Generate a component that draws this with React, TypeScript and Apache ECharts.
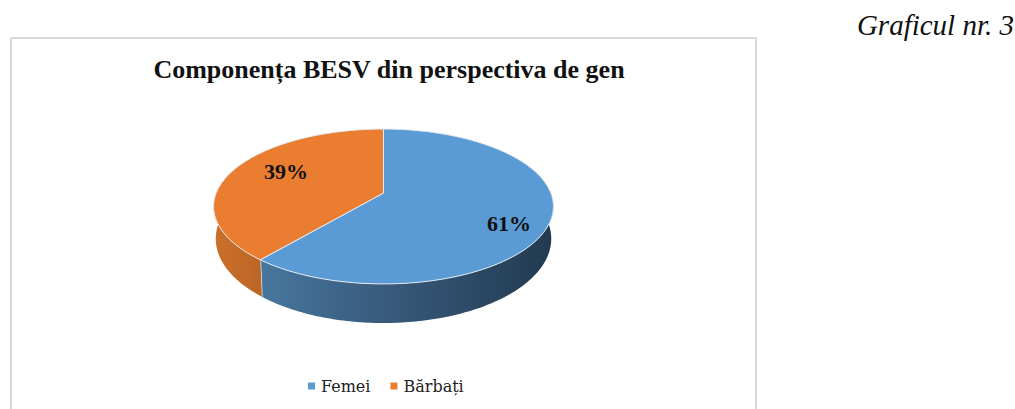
import React, { useEffect, useRef } from "react";
import * as echarts from "echarts";

const categories = ["Femei", "Bărbați"];
const shares = [61, 39];
const titleText = "Componența BESV din perspectiva de gen";
const captionText = "Graficul nr. 3";

const colors = ["#5b9bd5", "#eb7d31"];
const sideGradients = [
  [[0, "#47779f"], [0.45, "#38597a"], [1, "#213a50"]],
  [[0, "#ca7029"], [1, "#bb6526"]],
];
const labelPos = [[509, 223], [286, 171]];
const font = "'Liberation Serif', serif";

// perspective projection of the disc
const P = -0.174;
const top = { x: 383.5, y: 193, a: 167.3, b: 75.1 };
const bottom = { x: 383.5, y: 224, a: 165.2, b: 81.8 };
const proj = (f: any, t: number, r = 1) => {
  const u = r * Math.sin(t), v = -r * Math.cos(t), d = 1 + P * v;
  return [f.x + (f.a * u) / d, f.y + (f.b * v) / d];
};
const arc = (f: any, a: number, b: number) => {
  const n = Math.max(2, Math.ceil(((b - a) * 180) / Math.PI));
  const pts: number[][] = [];
  for (let i = 0; i <= n; i++) pts.push(proj(f, a + ((b - a) * i) / n));
  return pts;
};

const total = shares.reduce((s, v) => s + v, 0);
const makeRender = (idx: number) => () => {
  const before = shares.slice(0, idx).reduce((s, v) => s + v, 0);
  const t0 = (before / total) * 2 * Math.PI;
  const t1 = ((before + shares[idx]) / total) * 2 * Math.PI;
  const s0 = Math.max(t0, Math.PI / 2 - 0.02);
  const s1 = Math.min(t1, (3 * Math.PI) / 2 + 0.02);
  const children: any[] = [];
  const stops = sideGradients[idx].map(([offset, color]) => ({ offset, color }));
  if (s1 > s0) {
    children.push({
      type: "polygon",
      shape: { points: [...arc(top, s0, s1), ...arc(bottom, s0, s1).reverse()] },
      style: { fill: new echarts.graphic.LinearGradient(0, 0, 1, 0, stops as any) },
    });
  }
  children.push({
    type: "polygon",
    shape: { points: [[top.x, top.y], ...arc(top, t0, t1)] },
    style: { fill: colors[idx], stroke: "#e4ecf4", lineWidth: 1, lineJoin: "round" },
  });
  // light edge where the slices meet on the rim
  children.push({
    type: "line",
    shape: {
      x1: proj(top, t1)[0], y1: proj(top, t1)[1],
      x2: proj(bottom, t1)[0], y2: proj(bottom, t1)[1],
    },
    style: { stroke: idx === 0 ? "#dfe6ee" : "rgba(0,0,0,0)", lineWidth: 1.5 },
  });
  children.push({
    type: "text",
    x: labelPos[idx][0],
    y: labelPos[idx][1],
    style: {
      text: `${shares[idx]}%`,
      font: `bold 22px ${font}`,
      fill: "#111",
      align: "center",
      verticalAlign: "middle",
    },
  });
  return { type: "group", children };
};

export default function App() {
  const ref = useRef<HTMLDivElement>(null);
  useEffect(() => {
    const chart = echarts.init(ref.current!, null, { renderer: "svg" });
    chart.setOption({
      animation: false,
      backgroundColor: "#fff",
      title: {
        text: titleText,
        left: 384,
        top: 51,
        textAlign: "center",
        textStyle: { fontFamily: font, fontWeight: "bold", fontSize: 26, color: "#111" },
      },
      legend: {
        left: 303,
        top: 373,
        icon: "rect",
        itemWidth: 7,
        itemHeight: 7,
        itemGap: 20,
        data: categories,
        selectedMode: false,
        textStyle: { fontFamily: "'DejaVu Serif', serif", fontSize: 16, color: "#222", padding: [0, 0, 0, 1] },
      },
      graphic: [
        {
          type: "rect",
          silent: true,
          z: -1,
          shape: { x: 11, y: 38, width: 745, height: 400 },
          style: { fill: "#fff", stroke: "#d9d9d9", lineWidth: 2 },
        },
        {
          type: "text",
          x: 1014,
          y: 25,
          style: {
            text: captionText,
            font: `italic 29px ${font}`,
            fill: "#111",
            align: "right",
            verticalAlign: "middle",
          },
        },
      ],
      series: categories.map((name, i) => ({
        type: "custom",
        name,
        coordinateSystem: "none",
        itemStyle: { color: colors[i] },
        data: [[shares[i]]],
        renderItem: makeRender(i),
      })),
    });
    return () => chart.dispose();
  }, []);
  return <div ref={ref} style={{ position: "fixed", left: 0, top: 0, width: 1015, height: 409 }} />;
}
